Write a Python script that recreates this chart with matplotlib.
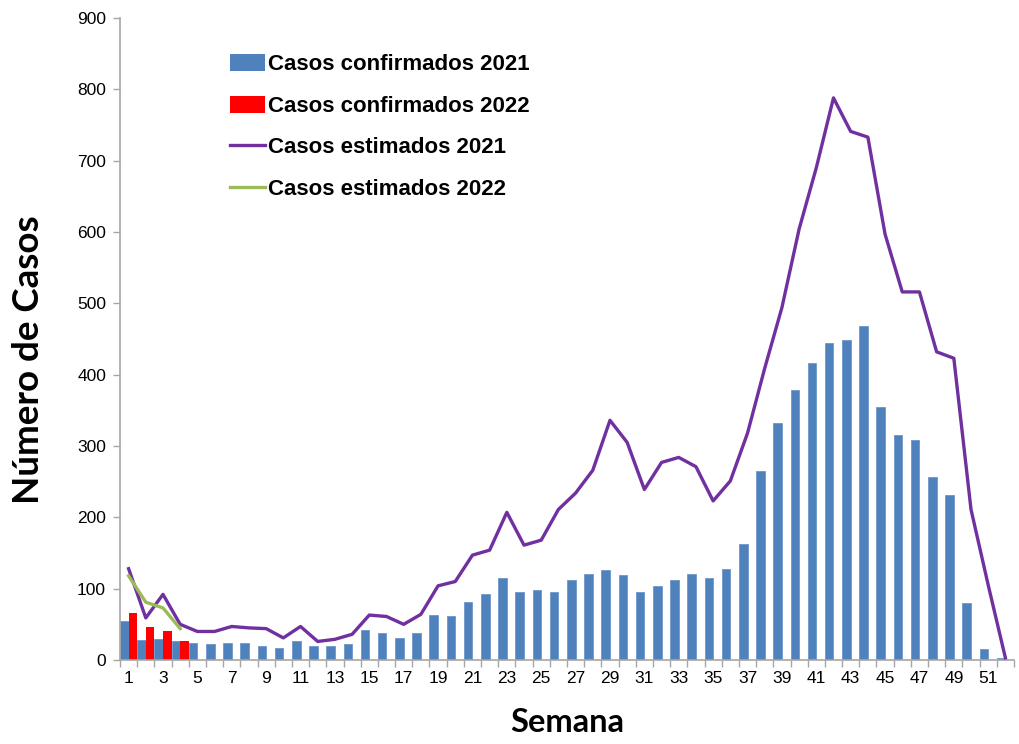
import numpy as np
import matplotlib.pyplot as plt
from matplotlib.patches import Patch
from matplotlib.lines import Line2D

weeks = np.arange(1, 53)

confirmados_2021 = [55, 28, 29, 26, 24, 22, 24, 24, 19, 17,
                    26, 19, 19, 22, 42, 38, 31, 38, 63, 62,
                    81, 92, 115, 95, 98, 95, 112, 120, 126, 119,
                    95, 104, 112, 120, 115, 127, 163, 265, 332, 379,
                    416, 445, 448, 468, 354, 316, 308, 256, 231, 80,
                    15, 3]
confirmados_2022 = [66, 46, 40, 26]

estimados_2021 = [128, 59, 92, 50, 40, 40, 47, 45, 44, 31,
                  47, 26, 29, 36, 63, 61, 50, 64, 104, 110,
                  147, 154, 207, 161, 168, 211, 234, 266, 336, 305,
                  239, 277, 284, 271, 223, 251, 318, 409, 494, 604,
                  690, 788, 741, 733, 597, 516, 516, 432, 423, 211,
                  105, 3]
estimados_2022 = [118, 81, 73, 44]

labels = ["Casos confirmados 2021", "Casos confirmados 2022",
          "Casos estimados 2021", "Casos estimados 2022"]

BLUE = "#4F81BD"
RED = "#FF0000"
PURPLE = "#7030A0"
GREEN = "#9BBB59"
GRAY = "#A6A6A6"

fig = plt.figure(figsize=(10.19, 7.44), dpi=100)
ax = fig.add_axes([120 / 1019, 1 - 660 / 744, 894 / 1019, 642 / 744])

w = 0.5
ax.bar(weeks - w / 2, confirmados_2021, width=w, color=BLUE, edgecolor="#6D97C9", linewidth=0.6, zorder=2)
ax.bar(weeks[:len(confirmados_2022)] + w / 2, confirmados_2022, width=w, color=RED, zorder=2)
ax.plot(weeks, estimados_2021, color=PURPLE, lw=2.4, zorder=3)
ax.plot(weeks[:len(estimados_2022)], estimados_2022, color=GREEN, lw=2.4, zorder=4)

ax.set_xlim(0.5, 52.5)
ax.set_ylim(0, 900)
ax.set_yticks(np.arange(0, 901, 100))

# ticks at category boundaries, labels on odd weeks
ax.set_xticks(np.arange(0.5, 53, 1))
ax.set_xticklabels([])
ax.set_xticks(weeks[::2], minor=True)
ax.set_xticklabels([str(x) for x in weeks[::2]], minor=True)
ax.tick_params(axis="x", which="major", length=5, color=GRAY, width=1)
ax.tick_params(axis="x", which="minor", length=0, pad=8, labelsize=12.5)
ax.tick_params(axis="y", length=5, color=GRAY, width=1, labelsize=12.5, pad=5)
for lab in ax.get_xticklabels(minor=True) + ax.get_yticklabels():
    lab.set_fontfamily("Liberation Sans")

for s in ["top", "right"]:
    ax.spines[s].set_visible(False)
for s in ["left", "bottom"]:
    ax.spines[s].set_color(GRAY)
    ax.spines[s].set_linewidth(1.2)

fig.text(29 / 1019, 1 - 360 / 744, "Número de Casos", rotation=90, ha="center", va="center",
         fontsize=26.5, fontweight="bold", family="Lato")
fig.text(567 / 1019, 1 - 722 / 744, "Semana", ha="center", va="center",
         fontsize=23.5, fontweight="bold", family="Lato")

handles = [Patch(facecolor=BLUE), Patch(facecolor=RED),
           Line2D([], [], color=PURPLE, lw=2.4), Line2D([], [], color=GREEN, lw=2.4)]
ax.legend(handles, labels, loc="upper left", bbox_to_anchor=(101 / 894, 1 - 27 / 642),
          frameon=False, handlelength=1.6, handleheight=0.8, handletextpad=0.1,
          labelspacing=0.92, borderaxespad=0,
          prop={"family": "Liberation Sans", "weight": "bold", "size": 16})

fig.savefig("out.png", dpi=100)
